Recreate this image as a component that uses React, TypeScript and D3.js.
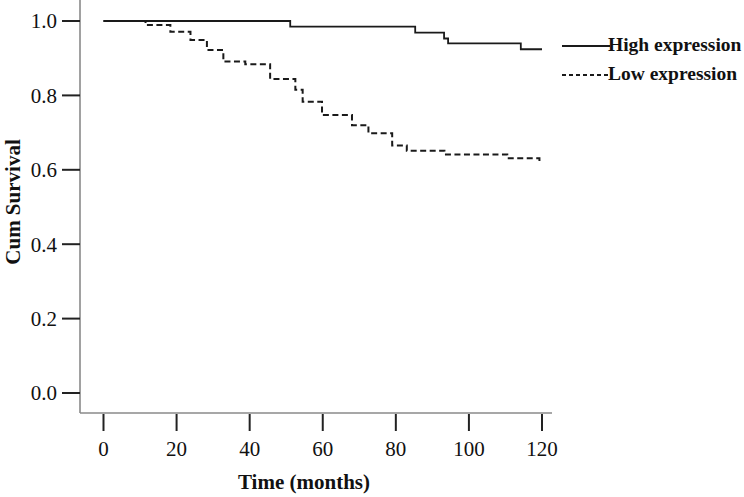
import React from 'react'
import * as d3 from 'd3'

// survival steps (months, cum survival after the event)
const highTimes = [0, 51.1, 85.3, 93.2, 94.3, 114.2, 120]
const highSurv = [1.0, 0.985, 0.969, 0.953, 0.94, 0.924, 0.924]

const lowTimes = [0, 11.5, 18.3, 23.8, 28.3, 32.8, 38.8, 45.6, 52.5, 54.5, 59.8, 68, 72.5, 79, 83, 93.3, 110.5, 119.3, 120]
const lowSurv = [1.0, 0.989, 0.971, 0.949, 0.922, 0.891, 0.884, 0.844, 0.815, 0.783, 0.747, 0.72, 0.698, 0.665, 0.651, 0.641, 0.631, 0.622, 0.622]

const xTicks = [0, 20, 40, 60, 80, 100, 120]
const yTicks = [0, 0.2, 0.4, 0.6, 0.8, 1.0]

const legendLabels = ['High expression', 'Low expression']

const width = 744
const height = 497
const font = '"Liberation Serif", "Times New Roman", serif'

const App = () => {
  const x = d3.scaleLinear().domain([0, 120]).range([103.5, 542])
  const y = d3.scaleLinear().domain([0, 1]).range([393, 21])

  const axisLeft = 80
  const axisBottom = 413

  const line = d3.line<[number, number]>()
    .x(d => x(d[0]))
    .y(d => y(d[1]))
    .curve(d3.curveStepAfter)

  const highPts = highTimes.map((t, i) => [t, highSurv[i]] as [number, number])
  const lowPts = lowTimes.map((t, i) => [t, lowSurv[i]] as [number, number])

  return (
    <svg width={width} height={height}
      style={{position: 'absolute', left: 0, top: 0, background: '#fff'}}
      fontFamily={font}>
      {/* axes */}
      <line x1={axisLeft} x2={axisLeft} y1={0} y2={axisBottom} stroke="#8a8a8a" strokeWidth={1.6} />
      <line x1={axisLeft} x2={552} y1={axisBottom} y2={axisBottom} stroke="#8a8a8a" strokeWidth={1.6} />

      {yTicks.map(t => (
        <g key={'y' + t}>
          <line x1={62} x2={axisLeft} y1={y(t)} y2={y(t)} stroke="#222" strokeWidth={2} />
          <text x={57} y={y(t)} dy="0.35em" textAnchor="end" fontSize={21} fill="#111">
            {d3.format('.1f')(t)}
          </text>
        </g>
      ))}

      {xTicks.map(t => (
        <g key={'x' + t}>
          <line x1={x(t)} x2={x(t)} y1={axisBottom + 1} y2={431} stroke="#222" strokeWidth={2} />
          <text x={x(t)} y={456} textAnchor="middle" fontSize={21} fill="#111">{t}</text>
        </g>
      ))}

      <text x={304} y={489} textAnchor="middle" fontSize={21} fontWeight="bold" fill="#111">
        Time (months)
      </text>
      <text transform={`translate(20,202) rotate(-90)`} textAnchor="middle" fontSize={21}
        fontWeight="bold" fill="#111">
        Cum Survival
      </text>

      {/* curves */}
      <path d={line(highPts) || ''} fill="none" stroke="#1a1a1a" strokeWidth={1.8} />
      <path d={line(lowPts) || ''} fill="none" stroke="#1a1a1a" strokeWidth={2}
        strokeDasharray="6,3.5" />

      {/* legend */}
      {legendLabels.map((lab, i) => (
        <g key={lab}>
          <line x1={562} x2={610} y1={46 + i * 29} y2={46 + i * 29} stroke="#1a1a1a"
            strokeWidth={i === 0 ? 1.8 : 2} strokeDasharray={i === 0 ? undefined : '4,3'} />
          <text x={608} y={51 + i * 29} fontSize={19.5} fontWeight="bold" fill="#111">{lab}</text>
        </g>
      ))}
    </svg>
  )
}

export default App
